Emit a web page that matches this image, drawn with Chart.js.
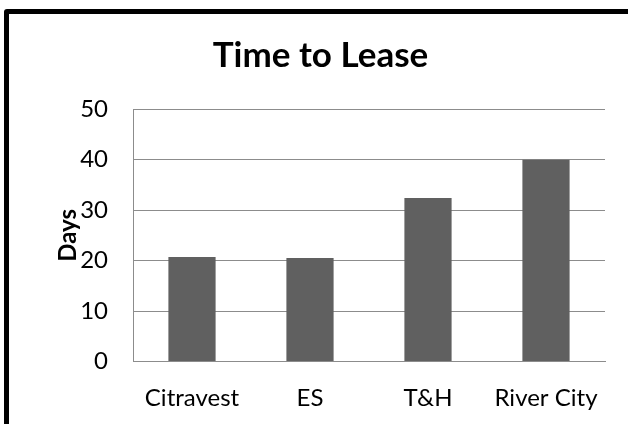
<!DOCTYPE html>
<html>
<head>
<meta charset="utf-8">
<script src="https://cdn.jsdelivr.net/npm/chart.js@4"></script>
<style>
  html, body { margin: 0; padding: 0; background: #fff; overflow: hidden; }
  #wrap { position: relative; width: 628px; height: 424px; overflow: hidden; }
  #cadre {
    position: absolute; left: 4px; top: 9px; width: 700px; height: 500px;
    border: 5px solid #000; border-radius: 3px; box-sizing: border-box;
  }
  canvas { position: absolute; left: 0; top: 0; }
</style>
</head>
<body>
<div id="wrap">
  <div id="cadre"></div>
  <canvas id="grafico" width="628" height="424"></canvas>
</div>
<script>
// dados
const categorias = ['Citravest', 'ES', 'T&H', 'River City'];
const dias = [20.7, 20.5, 32.4, 40.0];
const ticksY = [0, 10, 20, 30, 40, 50];

const fonte = 'Lato, Carlito, "Liberation Sans", sans-serif';

const ctx = document.getElementById('grafico').getContext('2d');

new Chart(ctx, {
  type: 'bar',
  data: {
    labels: categorias,
    datasets: [{
      label: 'Days',
      data: dias,
      backgroundColor: '#606060',
      borderWidth: 0,
      barPercentage: 0.4,
      categoryPercentage: 1
    }]
  },
  options: {
    responsive: false,
    animation: false,
    // padding esquerdo so para centrar o titulo como no original
    layout: { padding: { left: 36, right: 23, top: 0, bottom: 0 } },
    plugins: {
      legend: { display: false },
      tooltip: { enabled: false },
      title: {
        display: true,
        text: 'Time to Lease',
        color: '#000',
        font: { family: fonte, size: 35, weight: 'bold' },
        padding: { top: 35, bottom: 32.2 }
      }
    },
    scales: {
      x: {
        grid: { display: false },
        border: { display: true, color: '#8c8c8c', width: 1 },
        ticks: {
          color: '#000',
          font: { family: fonte, size: 24 },
          padding: 14,
          maxRotation: 0
        },
        afterFit: s => { s.height = 62.5; }
      },
      y: {
        min: 0,
        max: 50,
        afterBuildTicks: s => { s.ticks = ticksY.map(v => ({ value: v })); },
        grid: { color: '#8c8c8c', lineWidth: 1, drawTicks: false },
        border: { display: true, color: '#8c8c8c', width: 1 },
        ticks: {
          color: '#000',
          font: { family: fonte, size: 24 },
          padding: 25
        },
        title: {
          display: true,
          text: 'Days',
          color: '#000',
          font: { family: fonte, size: 24, weight: 'bold' },
          padding: { top: 18, bottom: 0 }
        },
        afterFit: s => { s.width = 133 - 36; }
      }
    }
  }
});
</script>
</body>
</html>
